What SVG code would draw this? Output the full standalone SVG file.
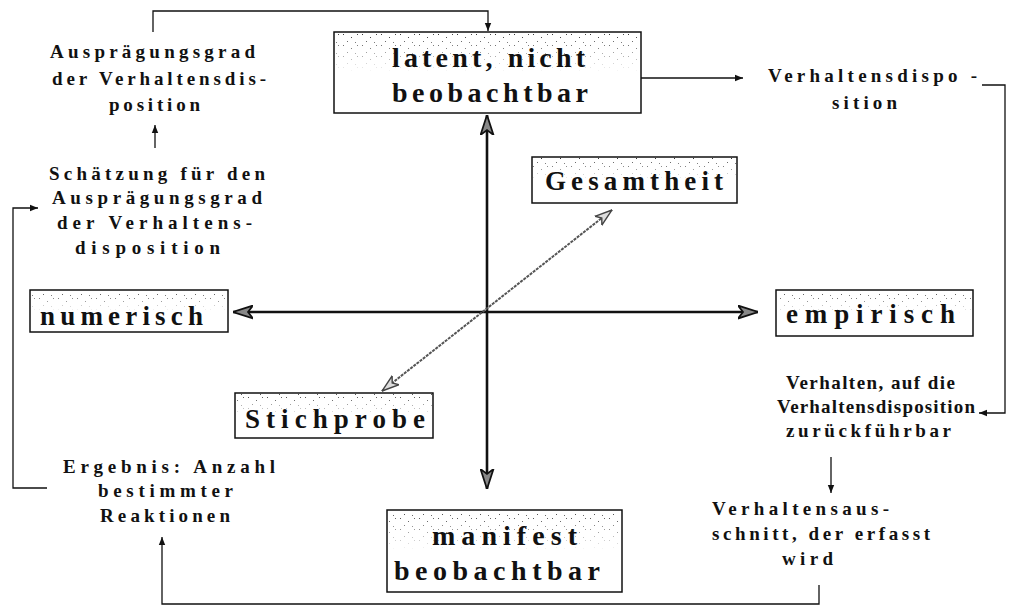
<svg xmlns="http://www.w3.org/2000/svg" width="1010" height="608" viewBox="0 0 1010 608">
  <style>
    .t { font-family: "Liberation Serif", "Times New Roman", serif; font-weight: bold; fill: #111; }
    .s { font-size: 19px; }
    .b { font-size: 28px; }
    .m { font-size: 27px; }
    .box { fill: #fff; stroke: #111; stroke-width: 1.5; }
    .speck { fill: url(#dots); mask: url(#fade); }
    .ln { fill: none; stroke: #111; stroke-width: 1.3; }
    .axis { fill: none; stroke: #111; stroke-width: 2.6; }
    .diag { fill: none; stroke: #555; stroke-width: 2; stroke-dasharray: 3 1; }
  </style>
  <defs>
    <!-- sparse speckle used in the upper part of the framed labels -->
    <pattern id="dots" width="19" height="11" patternUnits="userSpaceOnUse">
      <rect x="1" y="1" width="1" height="1" fill="#333"/>
      <rect x="9" y="4" width="1" height="1" fill="#333"/>
      <rect x="15" y="1" width="1" height="1" fill="#444"/>
      <rect x="5" y="8" width="1" height="1" fill="#444"/>
      <rect x="13" y="9" width="1" height="1" fill="#555"/>
    </pattern>
    <linearGradient id="fadeGrad" x1="0" y1="0" x2="0" y2="1">
      <stop offset="0" stop-color="#fff"/>
      <stop offset="0.5" stop-color="#000"/>
    </linearGradient>
    <mask id="fade" maskContentUnits="objectBoundingBox">
      <rect x="0" y="0" width="1" height="1" fill="url(#fadeGrad)"/>
    </mask>
    <marker id="ah" viewBox="0 0 10 10" refX="10" refY="5" markerWidth="8" markerHeight="8" markerUnits="userSpaceOnUse" orient="auto">
      <path d="M0,1 L10,5 L0,9 Z" fill="#111"/>
    </marker>
    <marker id="axh" viewBox="0 0 16 12" refX="16" refY="6" markerWidth="20" markerHeight="15" markerUnits="userSpaceOnUse" orient="auto-start-reverse">
      <path d="M0,0.8 L16,6 L0,11.2 L4,6 Z" fill="#888" stroke="#111" stroke-width="1.4"/>
    </marker>
    <marker id="dh" viewBox="0 0 16 12" refX="16" refY="6" markerWidth="18" markerHeight="13" markerUnits="userSpaceOnUse" orient="auto-start-reverse">
      <path d="M0,0.8 L16,6 L0,11.2 L4,6 Z" fill="#ddd" stroke="#444" stroke-width="1.3"/>
    </marker>
  </defs>

  <!-- connectors -->
  <g id="connectors">
    <polyline class="ln" points="153,32 153,11 488,11 488,31" marker-end="url(#ah)"/>
    <line class="ln" x1="155" y1="148" x2="155" y2="125" marker-end="url(#ah)"/>
    <polyline class="ln" points="47,488 13,488 13,208 38,208" marker-end="url(#ah)"/>
    <line class="ln" x1="641" y1="78" x2="743" y2="78" marker-end="url(#ah)"/>
    <polyline class="ln" points="982,85 1005,85 1005,413 979,413" marker-end="url(#ah)"/>
    <line class="ln" x1="831" y1="457" x2="831" y2="493" marker-end="url(#ah)"/>
    <polyline class="ln" points="819,585 819,604 162,604 162,537" marker-end="url(#ah)"/>
    <!-- axes -->
    <line class="axis" x1="487" y1="312" x2="487" y2="115" marker-end="url(#axh)"/>
    <line class="axis" x1="487" y1="312" x2="487" y2="489" marker-end="url(#axh)"/>
    <line class="axis" x1="487" y1="312" x2="233" y2="312" marker-end="url(#axh)"/>
    <line class="axis" x1="487" y1="312" x2="758" y2="312" marker-end="url(#axh)"/>
    <line class="diag" x1="382" y1="391" x2="612" y2="210" marker-start="url(#dh)" marker-end="url(#dh)"/>
  </g>

  <!-- framed labels -->
  <g id="latent">
    <rect class="box" x="334" y="32" width="307" height="81"/>
    <rect class="speck" x="335" y="33" width="305" height="79"/>
    <text class="t b" x="392" y="67" textLength="193" lengthAdjust="spacing">latent, nicht</text>
    <text class="t b" x="392" y="102" textLength="196" lengthAdjust="spacing">beobachtbar</text>
  </g>
  <g id="gesamtheit">
    <rect class="box" x="532" y="157" width="205" height="46"/>
    <rect class="speck" x="533" y="158" width="203" height="44"/>
    <text class="t m" x="545" y="190" textLength="178" lengthAdjust="spacing">Gesamtheit</text>
  </g>
  <g id="numerisch">
    <rect class="box" x="30" y="290" width="198" height="42"/>
    <rect class="speck" x="31" y="291" width="196" height="40"/>
    <text class="t m" x="40" y="325" textLength="163" lengthAdjust="spacing">numerisch</text>
  </g>
  <g id="empirisch">
    <rect class="box" x="776" y="290" width="197" height="46"/>
    <rect class="speck" x="777" y="291" width="195" height="44"/>
    <text class="t m" x="786" y="323" textLength="169" lengthAdjust="spacing">empirisch</text>
  </g>
  <g id="stichprobe">
    <rect class="box" x="235" y="393" width="198" height="45"/>
    <rect class="speck" x="236" y="394" width="196" height="43"/>
    <text class="t m" x="245" y="428" textLength="180" lengthAdjust="spacing">Stichprobe</text>
  </g>
  <g id="manifest">
    <rect class="box" x="387" y="510" width="235" height="82"/>
    <rect class="speck" x="388" y="511" width="233" height="80"/>
    <text class="t b" x="432" y="545" textLength="145" lengthAdjust="spacing">manifest</text>
    <text class="t b" x="394" y="580" textLength="206" lengthAdjust="spacing">beobachtbar</text>
  </g>

  <!-- free text labels -->
  <g id="auspraegungsgrad">
    <text class="t s" x="50" y="58" textLength="205" lengthAdjust="spacing">Ausprägungsgrad</text>
    <text class="t s" x="52" y="85" textLength="214" lengthAdjust="spacing">der Verhaltensdis-</text>
    <text class="t s" x="109" y="111" textLength="91" lengthAdjust="spacing">position</text>
  </g>
  <g id="schaetzung">
    <text class="t s" x="49" y="180" textLength="216" lengthAdjust="spacing">Schätzung für den</text>
    <text class="t s" x="52" y="204" textLength="210" lengthAdjust="spacing">Ausprägungsgrad</text>
    <text class="t s" x="57" y="229" textLength="195" lengthAdjust="spacing">der Verhaltens-</text>
    <text class="t s" x="75" y="254" textLength="145" lengthAdjust="spacing">disposition</text>
  </g>
  <g id="verhaltensdisposition">
    <text class="t s" x="768" y="82" textLength="209" lengthAdjust="spacing">Verhaltensdispo -</text>
    <text class="t s" x="832" y="109" textLength="65" lengthAdjust="spacing">sition</text>
  </g>
  <g id="verhalten">
    <text class="t s" x="786" y="389" textLength="169" lengthAdjust="spacing">Verhalten, auf die</text>
    <text class="t s" x="777" y="413" textLength="198" lengthAdjust="spacing">Verhaltensdisposition</text>
    <text class="t s" x="786" y="437" textLength="165" lengthAdjust="spacing">zurückführbar</text>
  </g>
  <g id="ausschnitt">
    <text class="t s" x="712" y="515" textLength="177" lengthAdjust="spacing">Verhaltensaus-</text>
    <text class="t s" x="712" y="540" textLength="218" lengthAdjust="spacing">schnitt, der erfasst</text>
    <text class="t s" x="782" y="565" textLength="51" lengthAdjust="spacing">wird</text>
  </g>
  <g id="ergebnis">
    <text class="t s" x="63" y="473" textLength="212" lengthAdjust="spacing">Ergebnis: Anzahl</text>
    <text class="t s" x="98" y="497" textLength="135" lengthAdjust="spacing">bestimmter</text>
    <text class="t s" x="100" y="522" textLength="130" lengthAdjust="spacing">Reaktionen</text>
  </g>
</svg>
